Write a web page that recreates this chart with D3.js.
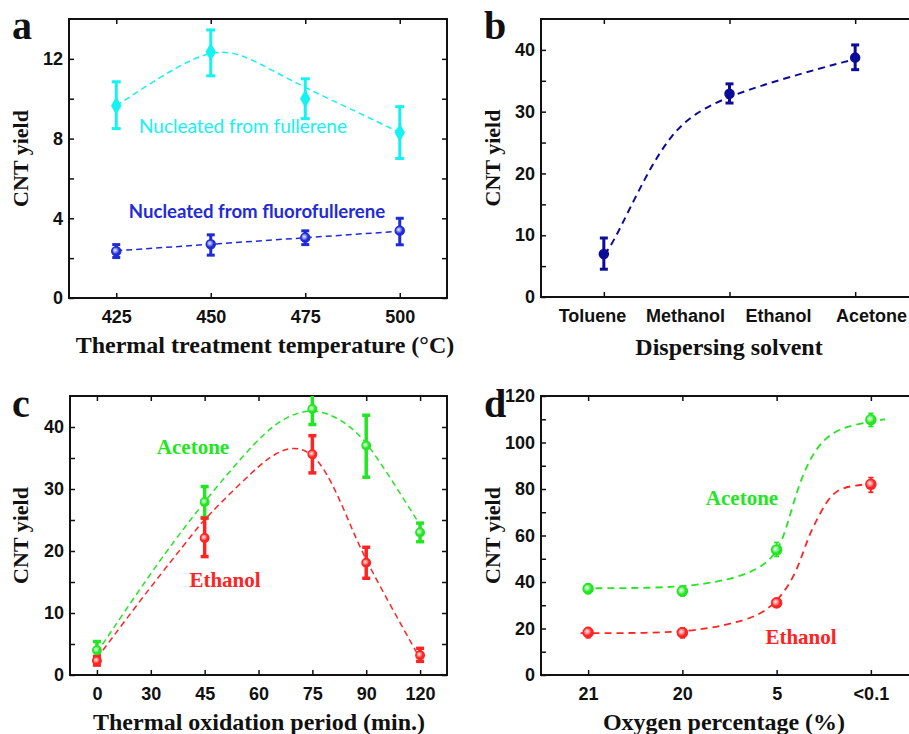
<!DOCTYPE html>
<html>
<head>
<meta charset="utf-8">
<script src="https://cdn.jsdelivr.net/npm/d3@7"></script>
<style>
  body { margin: 0; background: #fff; }
  svg { display: block; }
  .tick text { font-family: "Liberation Sans", Arial, sans-serif; font-weight: bold; font-size: 18px; fill: #111; }
  .tick line { stroke: #111; stroke-width: 1.5; }
  .title { font-family: "Liberation Serif", "Times New Roman", serif; font-weight: bold; fill: #111; }
</style>
</head>
<body>
<script>
// ---- panel a: thermal treatment temperature
const tempsA = [425, 450, 475, 500];
const fullereneYield = [9.65, 12.35, 10.0, 8.3];
const fullereneLow = [8.5, 11.15, 9.0, 7.0];
const fullereneHigh = [10.85, 13.45, 11.0, 9.6];
const fluoroYield = [2.35, 2.7, 3.03, 3.38];
const fluoroLow = [2.03, 2.15, 2.68, 2.67];
const fluoroHigh = [2.68, 3.17, 3.37, 4.0];
const fullereneFitX = [425, 436.7, 445.5, 452, 458, 466, 475.5, 488, 500];
const fullereneFitY = [9.65, 11.1, 12.05, 12.4, 12.25, 11.45, 10.5, 9.4, 8.3];
const fluoroFitX = [425, 500];
const fluoroFitY = [2.37, 3.35];

// ---- panel b: dispersing solvent
const solvents = ["Toluene", "Methanol", "Ethanol", "Acetone"];
const solventSlots = [1, 2, 3];
const solventYield = [6.95, 32.9, 38.75];
const solventLow = [4.5, 31.4, 36.8];
const solventHigh = [9.55, 34.5, 40.8];
const solventFitX = [1, 1.06, 1.34, 1.54, 1.72, 2, 2.47, 2.97, 3.05];
const solventFitY = [6.9, 8.1, 20.0, 26.4, 29.7, 32.6, 35.6, 38.4, 38.7];

// ---- panel c: thermal oxidation period
const periodTicks = ["0", "30", "45", "60", "75", "90", "120"];
const periodsC = ["0", "45", "75", "90", "120"];
const acetoneC = [4.0, 27.9, 42.9, 37.0, 23.0];
const acetoneCLow = [2.7, 25.4, 40.4, 31.9, 21.5];
const acetoneCHigh = [5.4, 30.4, 45.5, 41.9, 24.5];
const ethanolC = [2.3, 22.1, 35.6, 18.1, 3.2];
const ethanolCLow = [1.6, 19.1, 32.6, 15.6, 2.2];
const ethanolCHigh = [3.0, 25.3, 38.6, 20.6, 4.3];
const acetoneCFitSlot = [0, 1, 1.6, 2, 3, 3.55, 4.1, 4.67, 5.04, 5.53, 5.97];
const acetoneCFitY = [3.6, 16.5, 23.5, 28.0, 38.4, 42.0, 43.1, 40.5, 37.2, 30.7, 24.6];
const ethanolCFitSlot = [0, 1, 1.85, 2, 2.94, 3.31, 3.65, 4.02, 4.36, 4.73, 5.01, 5.94];
const ethanolCFitY = [2.7, 14.3, 23.5, 25.2, 33.3, 35.8, 36.9, 35.8, 31.3, 23.7, 18.1, 3.55];

// ---- panel d: oxygen percentage
const oxygen = ["21", "20", "5", "<0.1"];
const acetoneD = [37.1, 36.0, 53.8, 109.8];
const acetoneDLow = [35.0, 34.0, 51.0, 106.9];
const acetoneDHigh = [39.2, 38.1, 57.0, 112.5];
const ethanolD = [18.3, 18.2, 31.0, 82.0];
const ethanolDLow = [16.0, 16.0, 29.2, 78.6];
const ethanolDHigh = [20.4, 20.2, 33.0, 84.9];
const acetoneDFitSlot = [-0.05, 1, 1.5, 1.8, 2.0, 2.1, 2.22, 2.33, 2.47, 2.68, 3.0, 3.15];
const acetoneDFitY = [37.3, 37.4, 41, 45.2, 52, 62.5, 80, 91, 100.5, 106.5, 109, 110];
const ethanolDFitSlot = [-0.08, 1, 1.48, 1.8, 2.01, 2.19, 2.29, 2.36, 2.43, 2.54, 2.68, 3.0, 3.07];
const ethanolDFitY = [18, 18, 21.6, 25.2, 31.6, 42.4, 53.8, 61.5, 67, 75.6, 81, 82.2, 82.3];

const CYAN = "#14f2f2", BLUE = "#1f2ad8", NAVY = "#0c0c98", GREEN = "#22e622", RED = "#ff2424";

const svg = d3.select("body").append("svg").attr("width", 909).attr("height", 734);
const defs = svg.append("defs");

// shaded ball gradient for circle markers
function ball(id, color) {
    const g = defs.append("radialGradient").attr("id", id).attr("cx", "40%").attr("cy", "40%").attr("r", "60%");
    g.append("stop").attr("offset", "0%").attr("stop-color", "#fff").attr("stop-opacity", 0.9);
    g.append("stop").attr("offset", "70%").attr("stop-color", color);
    return `url(#${id})`;
}

function frame(box, x, y, cfg, id) {
    const g = svg.append("g");
    g.append("clipPath").attr("id", id)
        .append("rect").attr("x", box.left).attr("y", box.top)
        .attr("width", box.right - box.left).attr("height", box.bottom - box.top);

    const bottom = g.append("g").attr("transform", `translate(0,${box.bottom})`)
        .call(d3.axisBottom(x).tickValues(cfg.xTicks).tickSize(-5).tickPadding(12).tickFormat(cfg.xFormat));
    const top = g.append("g").attr("transform", `translate(0,${box.top})`)
        .call(d3.axisTop(x).tickValues(cfg.xTicks).tickSize(-5).tickFormat(""));
    const left = g.append("g").attr("transform", `translate(${box.left},0)`)
        .call(d3.axisLeft(y).tickValues(cfg.yMajor).tickSize(-5).tickPadding(6));
    const leftMinor = g.append("g").attr("transform", `translate(${box.left},0)`)
        .call(d3.axisLeft(y).tickValues(cfg.yMinor).tickSize(-5).tickFormat(""));
    const right = g.append("g").attr("transform", `translate(${box.right},0)`)
        .call(d3.axisRight(y).tickValues(cfg.yMajor.concat(cfg.yMinor)).tickSize(-5).tickFormat(""));
    [bottom, top, left, leftMinor, right].forEach(a => a.select(".domain").remove());

    g.append("rect")
        .attr("x", box.left).attr("y", box.top)
        .attr("width", box.right - box.left).attr("height", box.bottom - box.top)
        .attr("fill", "none").attr("stroke", "#111").attr("stroke-width", 2);

    // panel letter
    g.append("text").attr("class", "title")
        .attr("x", cfg.letterX).attr("y", cfg.letterY)
        .style("font-size", "40px").text(cfg.letter);
    // y title
    g.append("text").attr("class", "title")
        .attr("transform", `translate(${cfg.yTitleX},${(box.top + box.bottom) / 2}) rotate(-90)`)
        .attr("text-anchor", "middle").style("font-size", "22px")
        .text("CNT yield");
    // x title
    g.append("text").attr("class", "title")
        .attr("x", cfg.xTitleX).attr("y", cfg.xTitleY)
        .attr("text-anchor", "middle").style("font-size", "24px")
        .text(cfg.xTitle);

    return svg.append("g").attr("clip-path", `url(#${id})`);
}

function fitLine(g, xs, ys, x, y, color, width, dash) {
    g.append("path")
        .datum(d3.range(xs.length))
        .attr("fill", "none")
        .attr("stroke", color)
        .attr("stroke-width", width)
        .attr("stroke-dasharray", dash)
        .attr("d", d3.line().curve(d3.curveBasis).x(i => x(xs[i])).y(i => y(ys[i])));
}

function errorBars(g, px, lows, highs, y, color, width, cap) {
    const idx = d3.range(px.length);
    g.append("g").selectAll("line").data(idx).join("line")
        .attr("x1", i => px[i]).attr("x2", i => px[i])
        .attr("y1", i => y(lows[i])).attr("y2", i => y(highs[i]))
        .attr("stroke", color).attr("stroke-width", width);
    [lows, highs].forEach(ends => {
        g.append("g").selectAll("line").data(idx).join("line")
            .attr("x1", i => px[i] - cap / 2).attr("x2", i => px[i] + cap / 2)
            .attr("y1", i => y(ends[i])).attr("y2", i => y(ends[i]))
            .attr("stroke", color).attr("stroke-width", width);
    });
}

function balls(g, px, vals, y, color, fill, r) {
    g.append("g").selectAll("circle").data(d3.range(px.length)).join("circle")
        .attr("cx", i => px[i]).attr("cy", i => y(vals[i]))
        .attr("r", r).attr("fill", fill).attr("stroke", color).attr("stroke-width", 1.5);
}

function label(text, x, y, color, size, font, weight) {
    svg.append("text").attr("x", x).attr("y", y)
        .attr("text-anchor", "middle")
        .style("font-family", font).style("font-weight", weight).style("font-size", `${size}px`)
        .attr("fill", color).text(text);
}

const SERIF = '"Liberation Serif", "Times New Roman", serif';
const SANS = 'Lato, "Open Sans", sans-serif';

// ================= panel a
{
    const box = { left: 69, right: 447, top: 19, bottom: 298 };
    const x = d3.scaleLinear().domain([412.5, 512.5]).range([box.left, box.right]);
    const y = d3.scaleLinear().domain([0, 14]).range([box.bottom, box.top]);
    const g = frame(box, x, y, {
        xTicks: tempsA, xFormat: d3.format("d"), yMajor: [0, 4, 8, 12], yMinor: [2, 6, 10],
        letter: "a", letterX: 12, letterY: 39, yTitleX: 28,
        xTitle: "Thermal treatment temperature (°C)", xTitleX: 265, xTitleY: 353
    }, "clip-a");
    const px = tempsA.map(x);

    fitLine(g, fullereneFitX, fullereneFitY, x, y, CYAN, 1.5, "6 4");
    fitLine(g, fluoroFitX, fluoroFitY, x, y, BLUE, 1.5, "6 4");
    errorBars(g, px, fullereneLow, fullereneHigh, y, CYAN, 3, 9);
    errorBars(g, px, fluoroLow, fluoroHigh, y, BLUE, 3, 8);
    g.append("g").selectAll("path").data(d3.range(px.length)).join("path")
        .attr("transform", i => `translate(${px[i]},${y(fullereneYield[i])})`)
        .attr("d", d3.symbol(d3.symbolDiamond).size(95))
        .attr("fill", CYAN);
    balls(g, px, fluoroYield, y, BLUE, ball("ball-blue", BLUE), 4.5);

    label("Nucleated from fullerene", 243, 133, CYAN, 19, SANS, "normal");
    label("Nucleated from fluorofullerene", 257, 218, BLUE, 18.6, SANS, "bold");
}

// ================= panel b
{
    const box = { left: 541, right: 918, top: 19, bottom: 297 };
    const x = d3.scaleLinear().domain([0.5, 3.5]).range([box.left, box.right]);
    const y = d3.scaleLinear().domain([0, 45]).range([box.bottom, box.top]);
    const g = frame(box, x, y, {
        xTicks: solventSlots, xFormat: () => "", yMajor: [0, 10, 20, 30, 40], yMinor: [5, 15, 25, 35],
        letter: "b", letterX: 484, letterY: 39, yTitleX: 500,
        xTitle: "Dispersing solvent", xTitleX: 729, xTitleY: 355
    }, "clip-b");
    // solvent names sit evenly under the axis, not on the ticks
    const names = d3.scalePoint().domain(solvents).range([x(0.91), x(3.13)]);
    svg.append("g").selectAll("text").data(solvents).join("text")
        .attr("x", d => names(d)).attr("y", 322)
        .attr("text-anchor", "middle")
        .style("font-family", '"Liberation Sans", Arial, sans-serif')
        .style("font-weight", "bold").style("font-size", "18px")
        .attr("fill", "#111").text(d => d);

    const px = solventSlots.map(x);
    fitLine(g, solventFitX, solventFitY, x, y, NAVY, 2, "7 5");
    errorBars(g, px, solventLow, solventHigh, y, NAVY, 3, 8);
    balls(g, px, solventYield, y, NAVY, NAVY, 4.5);
}

// ================= panel c
{
    const box = { left: 70, right: 447, top: 396, bottom: 675 };
    const x = d3.scaleLinear().domain([-0.5, periodTicks.length - 0.5]).range([box.left, box.right]);
    const y = d3.scaleLinear().domain([0, 45]).range([box.bottom, box.top]);
    const g = frame(box, x, y, {
        xTicks: d3.range(periodTicks.length), xFormat: i => periodTicks[i],
        yMajor: [0, 10, 20, 30, 40], yMinor: [5, 15, 25, 35],
        letter: "c", letterX: 12, letterY: 417, yTitleX: 28,
        xTitle: "Thermal oxidation period (min.)", xTitleX: 259, xTitleY: 730
    }, "clip-c");
    const px = periodsC.map(p => x(periodTicks.indexOf(p)));

    fitLine(g, acetoneCFitSlot, acetoneCFitY, x, y, GREEN, 1.5, "6 4");
    fitLine(g, ethanolCFitSlot, ethanolCFitY, x, y, RED, 1.5, "6 4");
    errorBars(g, px, acetoneCLow, acetoneCHigh, y, GREEN, 3.5, 8);
    errorBars(g, px, ethanolCLow, ethanolCHigh, y, RED, 3.5, 8);
    balls(g, px, acetoneC, y, GREEN, ball("ball-green", GREEN), 4.2);
    balls(g, px, ethanolC, y, RED, ball("ball-red", RED), 4.2);

    label("Acetone", 193, 454, GREEN, 21, SERIF, "bold");
    label("Ethanol", 225, 587, RED, 21, SERIF, "bold");
}

// ================= panel d
{
    const box = { left: 541, right: 918, top: 396, bottom: 675 };
    const x = d3.scaleLinear().domain([-0.5, oxygen.length - 0.5]).range([box.left, box.right]);
    const y = d3.scaleLinear().domain([0, 120]).range([box.bottom, box.top]);
    const g = frame(box, x, y, {
        xTicks: d3.range(oxygen.length), xFormat: i => oxygen[i],
        yMajor: [0, 20, 40, 60, 80, 100, 120], yMinor: [10, 30, 50, 70, 90, 110],
        letter: "d", letterX: 484, letterY: 417, yTitleX: 500,
        xTitle: "Oxygen percentage (%)", xTitleX: 724, xTitleY: 730
    }, "clip-d");
    const px = oxygen.map((o, i) => x(i));

    fitLine(g, acetoneDFitSlot, acetoneDFitY, x, y, GREEN, 1.8, "7 5");
    fitLine(g, ethanolDFitSlot, ethanolDFitY, x, y, RED, 1.8, "7 5");
    errorBars(g, px, acetoneDLow, acetoneDHigh, y, GREEN, 1.8, 5);
    errorBars(g, px, ethanolDLow, ethanolDHigh, y, RED, 1.8, 5);
    balls(g, px, acetoneD, y, GREEN, ball("ball-green-d", GREEN), 5);
    balls(g, px, ethanolD, y, RED, ball("ball-red-d", RED), 5);

    label("Acetone", 742, 505, GREEN, 21, SERIF, "bold");
    label("Ethanol", 801, 644, RED, 21, SERIF, "bold");
}
</script>
</body>
</html>
